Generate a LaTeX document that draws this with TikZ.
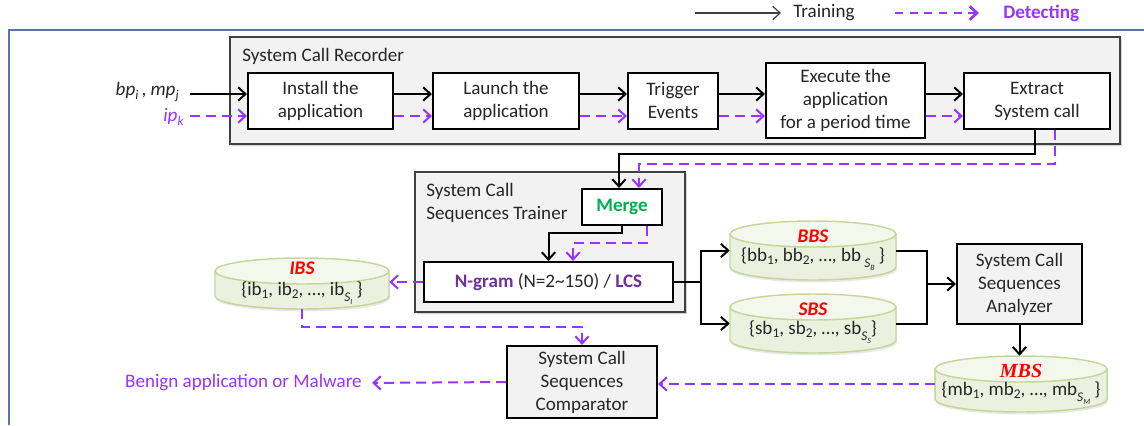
\documentclass[tikz,border=0pt]{standalone}
\usepackage{fontspec}
\setmainfont{Carlito}
\newfontfamily\serifbi{Liberation Serif}
\usetikzlibrary{arrows.meta,shadows,calc}

\definecolor{det}{HTML}{9933FF}
\definecolor{dpurple}{HTML}{7030A0}
\definecolor{mgreen}{HTML}{00B050}
\definecolor{setred}{HTML}{FF0000}
\definecolor{panelfill}{HTML}{F2F2F2}
\definecolor{drumfill}{HTML}{EBF1DE}
\definecolor{drumtopc}{HTML}{F4F8EC}
\definecolor{drumline}{HTML}{C4D79B}
\definecolor{frameblue}{HTML}{5876A8}
\definecolor{txt}{HTML}{262626}

% small lowered text for indices
\newcommand\dn[1]{\raisebox{-0.35ex}{\fontsize{10}{10}\selectfont #1}}
\newcommand\dnS[2]{\raisebox{-0.7ex}{\fontsize{10}{10}\selectfont\textit{#1}\raisebox{-0.45ex}{\fontsize{6}{6}\selectfont\textit{#2}}}}

% storage drum: name, left, right, top, bottom (pixel units)
\newcommand\drum[5]{%
  \pgfmathsetmacro\dcx{(#2+#3)/2}%
  \pgfmathsetmacro\dcy{(#4+#5)/2}%
  \pgfmathsetmacro\drx{0.375*(#3-#2)}%
  \pgfmathsetmacro\dw{0.75*(#3-#2)}%
  \pgfmathsetmacro\dh{0.75*(#5-#4)}%
  \node[minimum width=\dw pt, minimum height=\dh pt, inner sep=0pt] (#1) at (\dcx,\dcy) {};
  \filldraw[drumbody] (#2,#4+13) -- (#2,#5-13)
     arc[start angle=180, end angle=360, x radius=\drx pt, y radius=9.75pt]
     -- (#3,#4+13) -- cycle;
  \filldraw[drumtop] (\dcx,#4+13) ellipse[x radius=\drx pt, y radius=9.75pt];
}

\tikzset{
  every node/.style={font=\fontsize{14.3}{17.25}\selectfont, text=txt},
  pxbox/.style 2 args={minimum width=#1*0.75pt, minimum height=#2*0.75pt},
  panel/.style={draw=black!75, line width=0.9pt, fill=panelfill,
    drop shadow={shadow xshift=1.3pt, shadow yshift=-1.3pt, opacity=0.35}},
  stepbox/.style={draw=black, line width=1.5pt, fill=white, align=center, inner sep=0pt},
  graybox/.style={draw=black, line width=1.5pt, fill=panelfill, align=center, inner sep=0pt},
  drumbody/.style={draw=drumline, line width=1.1pt, fill=drumfill,
    drop shadow={shadow xshift=0.8pt, shadow yshift=-1.8pt, opacity=0.18}},
  drumtop/.style={draw=drumline, line width=1.1pt, fill=drumtopc},
  plain/.style={draw=black, line width=1.5pt},
  train/.style={draw=black, line width=1.5pt, -{Straight Barb[length=5.5pt,width=10pt]}},
  detect/.style={draw=det, line width=1.5pt, dash pattern=on 7.5pt off 4.5pt,
    -{Straight Barb[length=5.5pt,width=10pt]}},
  legtrain/.style={draw=black!75, line width=0.9pt, -{Straight Barb[length=5.5pt,width=10pt]}},
  legdetect/.style={draw=det, line width=2pt, dash pattern=on 6pt off 5pt,
    -{Straight Barb[length=5.5pt,width=10pt]}},
  setname/.style={font=\fontsize{14.5}{17}\selectfont\bfseries\itshape, text=setred},
  frame/.style={draw=frameblue, line width=1.5pt},
}

\begin{document}
\begin{tikzpicture}[x=0.75pt, y=-0.75pt]
\useasboundingbox (0,0) rectangle (1144,425);

% legend
\coordinate (la) at (695,13);
\node[anchor=west, inner sep=0pt] (ltrain) at (793,13) {Training};
\draw[legtrain, shorten >=9pt] (la) -- (ltrain.west);
\coordinate (lb) at (895,13);
\node[anchor=west, inner sep=0pt, text=det] (ldet) at (1003,13) {\textbf{Detecting}};
\draw[legdetect, shorten >=18pt] (lb) -- (ldet.west);

% outer frame
\draw[frame] (1144,30) -- (9,30) -- (9,425);

% recorder stage
\node[panel, pxbox={890}{107}] (recorder) at (675,90.5) {};
\node[anchor=west, inner sep=0pt] (reclabel) at (242,56) {System Call Recorder};
\node[stepbox, pxbox={145}{56}] (inst) at (320.5,101) {Install the\\application};
\node[stepbox, pxbox={146}{56}] (laun) at (506,101) {Launch the\\application};
\node[stepbox, pxbox={90}{56}] (trig) at (673,101) {Trigger\\Events};
\node[stepbox, pxbox={159}{75}] (exec) at (845.5,100.5) {Execute the\\application\\for a period time};
\node[stepbox, pxbox={146}{56}] (extr) at (1037,101) {Extract\\System call};

\node[anchor=east, inner sep=0pt] (bp) at (179,92) {\textit{bp}\dn{\textit{i}}\,, \textit{mp}\dn{\textit{j}}};
\node[anchor=east, inner sep=0pt, text=det] (ip) at (184,117) {\textit{ip}\dn{\textit{k}}};
\coordinate (inb) at (190,94);
\coordinate (ind) at (190,116);
\draw[train] (inb) -- (inb -| inst.west);
\draw[detect] (ind) -- (ind -| inst.west);
\foreach \a/\b in {inst/laun, laun/trig, trig/exec, exec/extr}{
  \draw[train] (\a.east |- inb) -- (\b.west |- inb);
  \draw[detect] (\a.east |- ind) -- (\b.west |- ind);
}

% trainer stage
\node[panel, pxbox={270}{140}] (trainer) at (550,242) {};
\node[anchor=west, inner sep=0pt, align=left] (trlabel) at (426,203) {System Call\\Sequences Trainer};
\node[stepbox, pxbox={80}{36}] (merge) at (622,207) {\textcolor{mgreen}{\textbf{Merge}}};
\node[stepbox, pxbox={249}{40}] (ngram) at (548.5,282)
  {\textcolor{dpurple}{\textbf{N-gram}} (N=2\textasciitilde150) / \textcolor{dpurple}{\textbf{LCS}}};

\coordinate (tb) at (1035,154);
\coordinate (td) at (1055,164);
\draw[train] ([xshift=-1.5pt]extr.south) -- (tb) -| ([xshift=-2.25pt]merge.north);
\draw[detect] ([xshift=13.5pt]extr.south) -- (td) -| ([xshift=12.75pt]merge.north);
\coordinate (mb) at (622,233);
\coordinate (md) at (647,243);
\draw[train] (merge.south) -- (mb) -| (ngram.north);
\draw[detect] ([xshift=18.75pt]merge.south) -- (md) -| ([xshift=18.4pt]ngram.north);

% sequence stores
\drum{ibs}{215}{389}{258}{309}
\drum{bbs}{730}{896}{221}{280}
\drum{sbs}{730}{896}{294}{353}
\drum{mbs}{935}{1107}{356}{412}

\node[setname] (ibsname) at (302,268) {IBS};
\node (ibsset) at (302,293) {\{ib\dn{1}, ib\dn{2}, …, ib\dnS{S}{I} \}};
\node[setname] (bbsname) at (813,236) {BBS};
\node (bbsset) at (813,259) {\{bb\dn{1}, bb\dn{2}, …, bb\,\dnS{S}{B} \}};
\node[setname] (sbsname) at (813,309) {SBS};
\node (sbsset) at (813,332) {\{sb\dn{1}, sb\dn{2}, …, sb\dnS{S}{S}\}};
\node[font=\fontsize{15}{17}\selectfont\serifbi\bfseries\itshape, text=setred] (mbsname) at (1021,371) {MBS};
\node (mbsset) at (1021,393) {\{mb\dn{1}, mb\dn{2}, …, mb\dnS{S}{M} \}};

% analysis and comparison
\node[graybox, pxbox={125}{80}] (analyzer) at (1019.5,284) {System Call\\Sequences\\Analyzer};
\node[graybox, pxbox={150}{72}] (comp) at (582,382) {System Call\\Sequences\\Comparator};
\node[anchor=east, inner sep=0pt, text=det] (benign) at (362,383) {Benign application or Malware};

\draw[detect] (ngram.west) -- (ngram.west -| ibs.east);
\coordinate (fork) at (701,282);
\draw[plain] (ngram.east) -- (fork);
\draw[train] (fork) |- (bbs.west);
\draw[train] (fork) |- (sbs.west);
\coordinate (join) at (927,284);
\draw[plain] (bbs.east) -| (join);
\draw[plain] (sbs.east) -| (join);
\draw[train] (join) -- (analyzer.west);
\draw[train] (analyzer.south) -- (analyzer.south |- mbs.north);

\coordinate (ic) at (582,327);
\draw[detect] (ibs.south) |- (ic) -- (comp.north);
\draw[detect] (mbs.west) -- (mbs.west -| comp.east);
\draw[detect, shorten >=7.5pt] (comp.west) -- (benign.east);
\end{tikzpicture}
\end{document}
